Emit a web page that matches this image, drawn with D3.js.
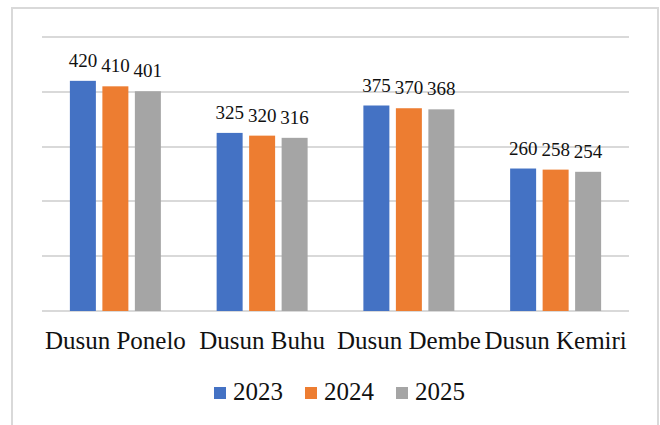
<!DOCTYPE html>
<html>
<head>
<meta charset="utf-8">
<script src="https://cdn.jsdelivr.net/npm/d3@7"></script>
<style>
html,body{margin:0;padding:0;background:#fff;}
svg{display:block;}
text{font-family:"Liberation Serif","Times New Roman",serif;fill:#111;}
</style>
</head>
<body>
<svg id="chart" width="660" height="425"></svg>
<script>
const categories = ["Dusun Ponelo", "Dusun Buhu", "Dusun Dembe", "Dusun Kemiri"];
const years = ["2023", "2024", "2025"];
const values2023 = [420, 325, 375, 260];
const values2024 = [410, 320, 370, 258];
const values2025 = [401, 316, 368, 254];
const gridTicks = [0, 100, 200, 300, 400, 500];
const colors = ["#4472C4", "#ED7D31", "#A5A5A5"];

(function () {
const series = [values2023, values2024, values2025];
const svg = d3.select("#chart");

// outer border
svg.append("rect").attr("x", 12).attr("y", 8).attr("width", 646).attr("height", 430)
  .attr("fill", "none").attr("stroke", "#d9d9d9").attr("stroke-width", 2);

const pLeft = 42, pRight = 629, pTop = 37, pBottom = 311;
const y = d3.scaleLinear().domain([0, 500]).range([pBottom, pTop]);
const x0 = d3.scaleBand().domain(categories).range([pLeft, pRight])
  .paddingInner(0.38).paddingOuter(0.19);
const x1 = d3.scaleBand().domain(years).range([0, x0.bandwidth()]).paddingInner(0.2).paddingOuter(0);
const color = d3.scaleOrdinal().domain(years).range(colors);

// gridlines
svg.append("g").selectAll("line").data(gridTicks).join("line")
  .attr("x1", pLeft).attr("x2", pRight)
  .attr("y1", d => Math.round(y(d))).attr("y2", d => Math.round(y(d)))
  .attr("stroke", "#d9d9d9").attr("stroke-width", 2);

const rows = [];
categories.forEach((c, i) => years.forEach((yr, j) => rows.push({cat: c, year: yr, value: series[j][i]})));

svg.append("g").selectAll("rect").data(rows).join("rect")
  .attr("x", d => x0(d.cat) + x1(d.year))
  .attr("y", d => y(d.value))
  .attr("width", x1.bandwidth())
  .attr("height", d => y(0) - y(d.value))
  .attr("fill", d => color(d.year));

svg.append("g").selectAll("text").data(rows).join("text")
  .attr("x", d => x0(d.cat) + x1(d.year) + x1.bandwidth() / 2)
  .attr("y", d => y(d.value) - 14)
  .attr("text-anchor", "middle")
  .attr("font-size", 19)
  .text(d => d.value);

// category axis labels
const xAxis = d3.axisBottom(x0).tickSize(0).tickPadding(0);
const ax = svg.append("g").attr("transform", `translate(0,${pBottom})`).call(xAxis);
ax.select(".domain").remove();
ax.selectAll("text").attr("font-size", 25).attr("dy", null).attr("y", 38)
  .style("font-family", '"Liberation Serif","Times New Roman",serif').attr("fill", "#111");

// legend
const legendX = [214, 305, 396];
const lg = svg.append("g").selectAll("g").data(years).join("g")
  .attr("transform", (d, i) => `translate(${legendX[i]},387)`);
lg.append("rect").attr("width", 12).attr("height", 12).attr("fill", d => color(d));
lg.append("text").attr("x", 19).attr("y", 13).attr("font-size", 25).text(d => d);
})();
</script>
</body>
</html>
